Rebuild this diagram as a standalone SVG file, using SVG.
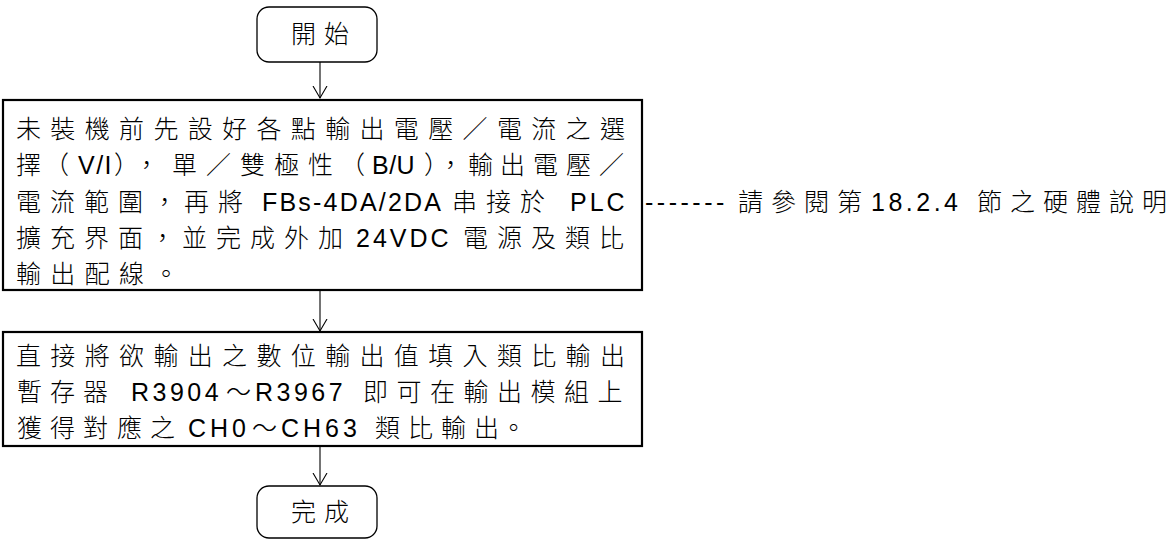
<svg xmlns="http://www.w3.org/2000/svg" width="1169" height="541" viewBox="0 0 1169 541">
<style>
.t { font-family: "Liberation Sans", "Noto Sans CJK TC", sans-serif; font-size: 25px; font-weight: 300; fill: #000; }
.c { letter-spacing: 9.35px; }
.box { fill: #fff; stroke: #000; stroke-width: 2.2; }
.term { fill: #fff; stroke: #000; stroke-width: 1.3; }
.conn { stroke: #000; stroke-width: 1.1; fill: none; marker-end: url(#arr); }
</style>
<defs>
<marker id="arr" viewBox="0 0 14 16" refX="12.5" refY="8" markerWidth="14" markerHeight="16" markerUnits="userSpaceOnUse" orient="auto">
<path d="M0.5,1 L12.5,8 L0.5,15" fill="none" stroke="#000" stroke-width="1.1"/>
</marker>
</defs>
<rect width="1169" height="541" fill="#fff"/>
<g id="connectors">
<line class="conn" x1="320" y1="62" x2="320" y2="98"/>
<line class="conn" x1="320" y1="291" x2="320" y2="331"/>
<line class="conn" x1="320" y1="447" x2="320" y2="485"/>
</g>
<g id="start">
<rect class="term" x="257" y="7" width="120" height="55" rx="12"/>
<text class="t" y="43"><tspan x="291 324">開始</tspan></text>
</g>
<g id="setup">
<rect class="box" x="3" y="100" width="639" height="190"/>
<text class="t c" x="16" y="138">未裝機前先設好各點輸出電壓／電流之選</text>
<text class="t" y="174.3"><tspan x="16 44">擇（</tspan><tspan x="78" letter-spacing="1.5">V/I</tspan><tspan x="114 134 172 206 240 274 308 340">），單／雙極性（</tspan><tspan x="372" letter-spacing="0.5">B/U</tspan><tspan x="424 438 468 500 533 566 599">），輸出電壓／</tspan></text>
<text class="t" y="210.6"><tspan x="16 50 84 118 152 184 218">電流範圍，再將</tspan> <tspan x="262" letter-spacing="2.2">FBs-4DA/2DA</tspan> <tspan x="452 486 520">串接於</tspan> <tspan x="570" letter-spacing="3">PLC</tspan></text>
<text class="t" y="246.9"><tspan x="16 50 84 118 150 182 216 250 284 318">擴充界面，並完成外加</tspan> <tspan x="356" letter-spacing="3">24VDC</tspan> <tspan x="463 497 531 565 599">電源及類比</tspan></text>
<text class="t c" x="16" y="283.2">輸出配線。</text>
</g>
<g id="write">
<rect class="box" x="3" y="332" width="639" height="114"/>
<text class="t c" x="16" y="364.5">直接將欲輸出之數位輸出值填入類比輸出</text>
<text class="t" y="400.8"><tspan x="17 50 83">暫存器</tspan> <tspan x="131" letter-spacing="3.5">R3904</tspan><tspan x="226">～</tspan><tspan x="255" letter-spacing="3.5">R3967</tspan> <tspan x="363 396.5 430 463.5 497 530.5 564 597.5">即可在輸出模組上</tspan></text>
<text class="t" y="437.1"><tspan x="17 50 83 117 150">獲得對應之</tspan> <tspan x="188" letter-spacing="4">CH0</tspan><tspan x="252">～</tspan><tspan x="281" letter-spacing="4">CH63</tspan> <tspan x="375 408 441 474 501">類比輸出。</tspan></text>
</g>
<g id="end">
<rect class="term" x="257" y="486" width="120" height="52" rx="12"/>
<text class="t" y="521"><tspan x="291 324">完成</tspan></text>
</g>
<g id="note">
<text class="t" y="210.6"><tspan x="645" letter-spacing="3.5">-------</tspan> <tspan x="738 771 804 837">請參閱第</tspan> <tspan x="871" letter-spacing="3.5">18.2.4</tspan> <tspan x="977 1010 1043 1076 1109 1142">節之硬體說明</tspan></text>
</g>
</svg>
